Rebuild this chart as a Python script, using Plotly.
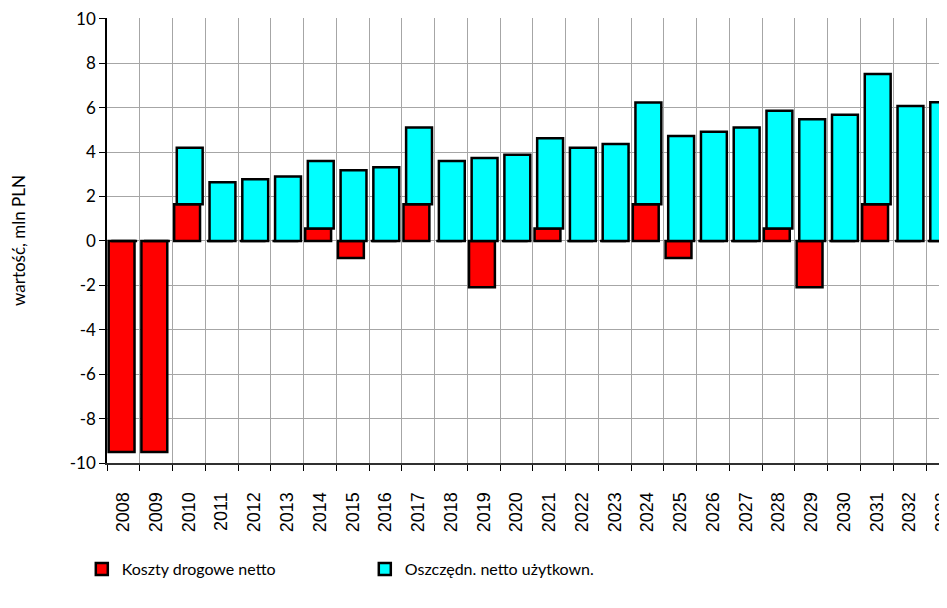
import plotly.graph_objects as go

years = [str(y) for y in range(2008, 2034)]
koszty = [-9.5, -9.5, 1.65, 0, 0, 0, 0.56, -0.77, 0, 1.65, 0, -2.09, 0, 0.56,
          0, 0, 1.65, -0.77, 0, 0, 0.56, -2.09, 0, 1.65, 0, 0]
oszczedn = [0, 0, 2.55, 2.64, 2.78, 2.90, 3.04, 3.18, 3.32, 3.46, 3.60, 3.74, 3.88,
            4.06, 4.20, 4.37, 4.58, 4.73, 4.92, 5.11, 5.30, 5.48, 5.68, 5.87, 6.08, 6.25]
y_ticks = list(range(-10, 11, 2))
y_ticktext = [str(v) for v in y_ticks]

xpos = list(range(len(years)))

fig = go.Figure()
fig.add_trace(go.Bar(
    x=xpos, y=koszty, name="Koszty drogowe netto",
    marker=dict(color="#FF0000", line=dict(color="black", width=2.5)),
    width=0.79, offset=-0.45,
))
fig.add_trace(go.Bar(
    x=xpos, y=oszczedn, name="Oszczędn. netto użytkown.",
    marker=dict(color="#00FFFF", line=dict(color="black", width=2.5)),
    width=0.79, offset=-0.37,
))

fig.update_layout(
    width=939, height=600,
    barmode="relative",
    plot_bgcolor="white", paper_bgcolor="white",
    margin=dict(l=99, r=0, t=10, b=145, autoexpand=False),
    font=dict(family="Lato", color="black"),
    showlegend=True,
    legend=dict(orientation="h", x=-0.03, y=-0.2, xanchor="left", yanchor="top",
                entrywidth=238, entrywidthmode="pixels",
                font=dict(family="Lato", size=16), itemwidth=30,
                traceorder="normal"),
)
fig.update_xaxes(
    range=[-0.5, 25.14],
    tickmode="array", tickvals=xpos, ticktext=years,
    tickangle=-90, tickfont=dict(family="Liberation Sans", size=18),
    ticklabeloverflow="allow", ticklabelstandoff=20,
    ticks="", showgrid=False, automargin=False,
    showline=True, linecolor="#303030", linewidth=2,
    minor=dict(tickmode="linear", tick0=-0.5, dtick=1, showgrid=True,
               gridcolor="#A6A6A6", gridwidth=1, ticks="outside", ticklen=6,
               tickcolor="black", tickwidth=1),
    zeroline=False, fixedrange=True,
)
fig.update_yaxes(
    range=[-10, 10.04], tickmode="array", tickvals=y_ticks, ticktext=y_ticktext,
    tickfont=dict(family="Lato", size=17), ticklabeloverflow="allow",
    ticks="outside", ticklen=6, tickcolor="black",
    showgrid=True, gridcolor="#A6A6A6", gridwidth=1,
    showline=True, linecolor="black", linewidth=1.5,
    zeroline=False, automargin=False,
    title=dict(text="wartość, mln PLN", font=dict(family="Lato", size=17), standoff=44),
)

fig.write_html("out.html")
